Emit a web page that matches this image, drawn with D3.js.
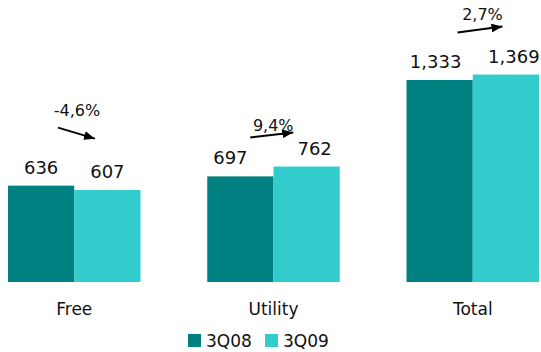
<!DOCTYPE html>
<html>
<head>
<meta charset="utf-8">
<script src="https://cdn.jsdelivr.net/npm/d3@7"></script>
<style>
  html, body { margin: 0; padding: 0; background: #fff; }
  svg { display: block; font-family: "DejaVu Sans", Verdana, sans-serif; }
</style>
</head>
<body>
<svg id="chart" width="541" height="352"></svg>
<script>
// Revenue by segment, third quarter 2008 vs 2009
const categories = ["Free", "Utility", "Total"];
const seriesNames = ["3Q08", "3Q09"];
const values3Q08 = [636, 697, 1333];
const values3Q09 = [607, 762, 1369];
const valueLabels3Q08 = ["636", "697", "1,333"];
const valueLabels3Q09 = ["607", "762", "1,369"];
const changeLabels = ["-4,6%", "9,4%", "2,7%"];

const colors = ["#008080", "#33cccc"];

// Placement of the change annotations, relative to each group's left edge
// and to the top of its taller bar.
const annotLayout = [
  { tx: 69, ty: -70, x1: 50, y1: -58, x2: 87, y2: -47 },
  { tx: 66, ty: -36, x1: 43, y1: -29, x2: 86, y2: -34 },
  { tx: 76, ty: -55, x1: 51, y1: -42, x2: 96, y2: -48 }
];
// Small horizontal nudges of the value labels
const labelNudge08 = [0, -10, -4];
const labelNudge09 = [0, 8, 8];

const svg = d3.select("#chart");

const x0 = d3.scaleBand().domain(categories).range([8, 539]).paddingInner(0.335).paddingOuter(0);
const x1 = d3.scaleBand().domain(seriesNames).range([0, x0.bandwidth()]).padding(0);
const y = d3.scaleLinear().domain([0, 1861]).range([282, 0]);

const rows = categories.map((c, i) => ({
  cat: c, i,
  vals: [
    { s: seriesNames[0], v: values3Q08[i], label: valueLabels3Q08[i], nudge: labelNudge08[i], color: colors[0] },
    { s: seriesNames[1], v: values3Q09[i], label: valueLabels3Q09[i], nudge: labelNudge09[i], color: colors[1] }
  ]
}));

const groups = svg.selectAll("g.grp").data(rows).join("g")
  .attr("class", "grp")
  .attr("transform", d => `translate(${x0(d.cat)},0)`);

groups.selectAll("rect").data(d => d.vals).join("rect")
  .attr("x", d => x1(d.s))
  .attr("y", d => y(d.v))
  .attr("width", x1.bandwidth())
  .attr("height", d => y(0) - y(d.v))
  .attr("fill", d => d.color);

groups.selectAll("text.val").data(d => d.vals).join("text")
  .attr("class", "val")
  .attr("x", d => x1(d.s) + x1.bandwidth() / 2 + d.nudge)
  .attr("y", d => y(d.v) - 12)
  .attr("text-anchor", "middle")
  .attr("font-size", 18)
  .attr("fill", "#111")
  .text(d => d.label);

// Category axis labels (no axis line)
const xAxis = d3.axisBottom(x0).tickSize(0).tickPadding(0);
const axisG = svg.append("g").attr("transform", `translate(0,${y(0)})`).call(xAxis);
axisG.select(".domain").remove();
axisG.selectAll("text")
  .attr("dy", null)
  .attr("y", 33)
  .attr("font-family", "DejaVu Sans, Verdana, sans-serif")
  .attr("font-size", 17)
  .attr("fill", "#111");

// Arrowhead
svg.append("defs").append("marker")
  .attr("id", "arrow")
  .attr("viewBox", "0 0 10 8")
  .attr("refX", 10).attr("refY", 4)
  .attr("markerWidth", 11).attr("markerHeight", 9)
  .attr("markerUnits", "userSpaceOnUse")
  .attr("orient", "auto")
  .append("path")
  .attr("d", "M0,0 L10,4 L0,8 Z")
  .attr("fill", "#000");

// Change annotations
rows.forEach((d, i) => {
  const gx = x0(d.cat);
  const top = y(Math.max(values3Q08[i], values3Q09[i]));
  const a = annotLayout[i];
  svg.append("text")
    .attr("x", gx + a.tx)
    .attr("y", top + a.ty)
    .attr("text-anchor", "middle")
    .attr("font-size", 16)
    .attr("fill", "#111")
    .text(changeLabels[i]);
  svg.append("line")
    .attr("x1", gx + a.x1).attr("y1", top + a.y1)
    .attr("x2", gx + a.x2).attr("y2", top + a.y2)
    .attr("stroke", "#000")
    .attr("stroke-width", 2)
    .attr("marker-end", "url(#arrow)");
});

// Legend
const legend = svg.append("g").attr("transform", "translate(188,334)");
const legendX = d3.scaleOrdinal().domain(seriesNames).range([0, 77]);
const items = legend.selectAll("g").data(seriesNames).join("g")
  .attr("transform", s => `translate(${legendX(s)},0)`);
items.append("rect")
  .attr("width", 13).attr("height", 13)
  .attr("fill", (s, i) => colors[i]);
items.append("text")
  .attr("x", 18).attr("y", 13)
  .attr("font-size", 17)
  .attr("fill", "#111")
  .text(s => s);
</script>
</body>
</html>
